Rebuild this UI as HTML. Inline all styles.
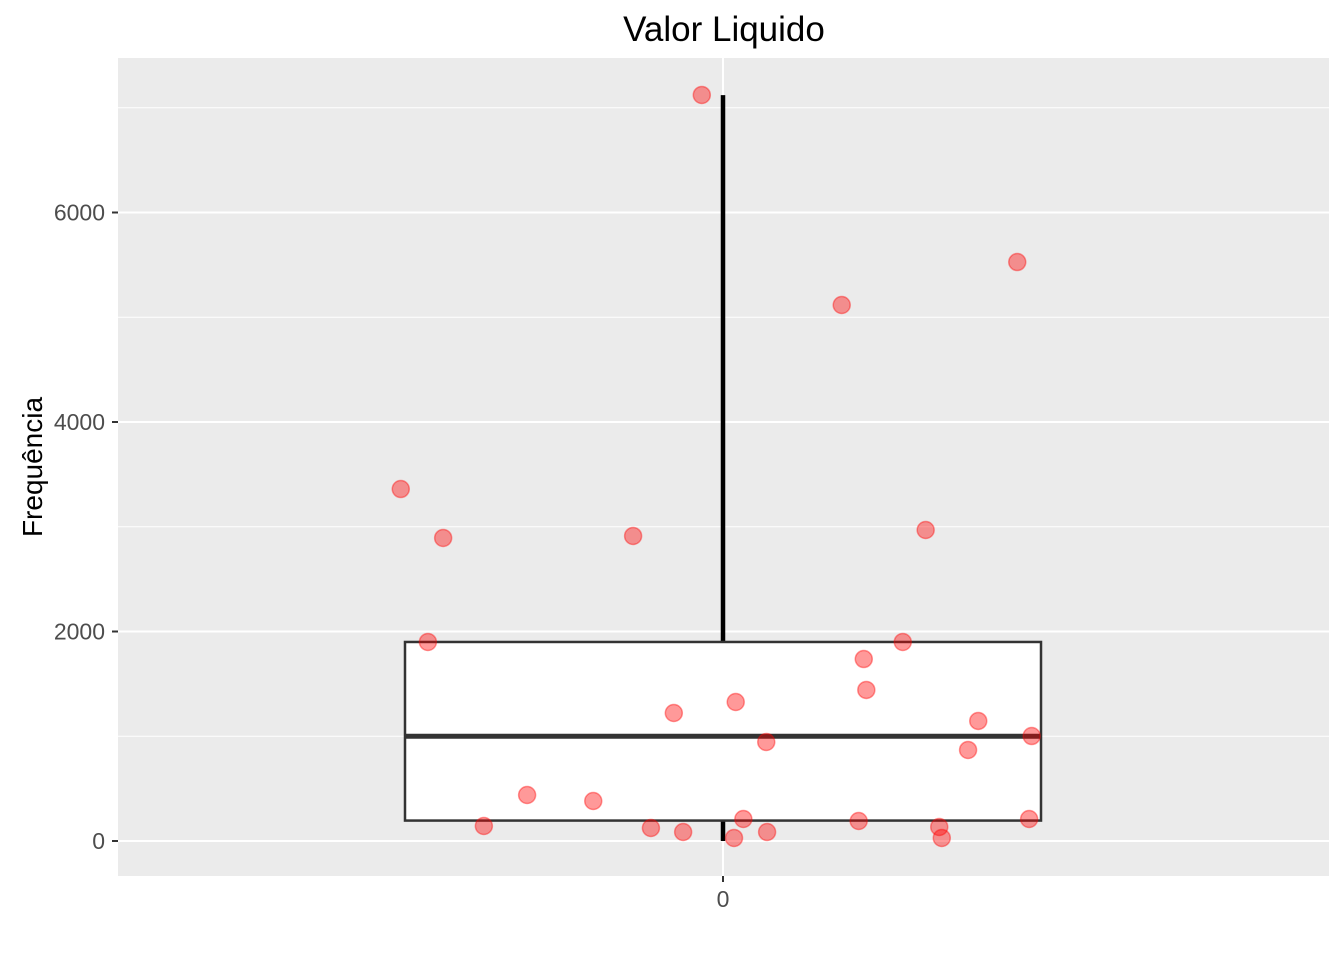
<!DOCTYPE html>
<html><head><meta charset="utf-8">
<style>
body{margin:0;background:#fff;}
svg{display:block;font-family:"Liberation Sans",sans-serif;}
</style></head>
<body>
<svg id="chart" width="1344" height="960">
<text x="724" y="41" text-anchor="middle" font-size="35" fill="#000">Valor Liquido</text>
<rect x="118" y="58" width="1211" height="818" fill="#ebebeb"/>
<g id="grid"></g>
<g id="box"></g>
<g id="pts"></g>
<g id="axes"></g>
<text transform="translate(42,467) rotate(-90)" text-anchor="middle" font-size="28" fill="#000">Frequência</text>
</svg>
<script>
const yTicks=[0,2000,4000,6000];
const yMinor=[1000,3000,5000,7000];
const boxStats=[195,1000,1900,0,7120]; // q1, median, q3, min, max
const values=[7122,5527,5117,3360,2893,2912,2969,1900,1900,1737,1442,1327,1222,1146,1002,945,869,439,382,143,124,86,210,191,134,210,29,86,29];
const jitter=[-0.025,0.347,0.140,-0.380,-0.330,-0.106,0.239,-0.348,0.212,0.166,0.169,0.015,-0.058,0.301,0.364,0.051,0.289,-0.231,-0.153,-0.282,-0.085,-0.047,0.024,0.160,0.255,0.361,0.013,0.052,0.258];
const NS="http://www.w3.org/2000/svg";
const y=v=>841-v*0.10475;
const x=u=>723+u*848;
function mk(tag,attrs,parent){const e=document.createElementNS(NS,tag);for(const k in attrs)e.setAttribute(k,attrs[k]);document.getElementById(parent).appendChild(e);return e;}
yMinor.forEach(v=>{const l=mk('line',{x1:118,x2:1329,y1:y(v),y2:y(v),stroke:'#fff','stroke-width':1},'grid');

});
yTicks.forEach(v=>{const l=mk('line',{x1:118,x2:1329,y1:y(v),y2:y(v),stroke:'#fff','stroke-width':2},'grid');


const t=mk('line',{x1:112,x2:118,y1:y(v),y2:y(v),stroke:'#333','stroke-width':2},'axes');


const tx=mk('text',{x:105,y:y(v)+8,'text-anchor':'end','font-size':23,fill:'#4d4d4d'},'axes');tx.textContent=v;

});
const vg=mk('line',{x1:x(0),x2:x(0),y1:58,y2:876,stroke:'#fff','stroke-width':2},'grid');


const xt=mk('line',{x1:x(0),x2:x(0),y1:876,y2:882,stroke:'#333','stroke-width':2},'axes');


const xl=mk('text',{x:x(0),y:907,'text-anchor':'middle','font-size':23,fill:'#4d4d4d'},'axes');xl.textContent='0';


const [q1,med,q3,mn,mx]=boxStats;
const w1=mk('line',{x1:x(0),x2:x(0),y1:y(q3),y2:y(mx),stroke:'#000','stroke-width':4.5},'box');


const w2=mk('line',{x1:x(0),x2:x(0),y1:y(mn),y2:y(q1),stroke:'#000','stroke-width':4.5},'box');


const bx=mk('rect',{x:x(-0.375),y:y(q3),width:x(0.375)-x(-0.375),height:y(q1)-y(q3),fill:'#fff',stroke:'#333','stroke-width':2.5},'box');


const md=mk('line',{x1:x(-0.375),x2:x(0.375),y1:y(med),y2:y(med),stroke:'#333','stroke-width':5},'box');


values.forEach((v,i)=>{const c=mk('circle',{cx:x(jitter[i]),cy:y(v),r:8.5,fill:'rgba(255,0,0,0.4)',stroke:'rgba(255,0,0,0.4)','stroke-width':1.5},'pts');

});
</script>
</body></html>
